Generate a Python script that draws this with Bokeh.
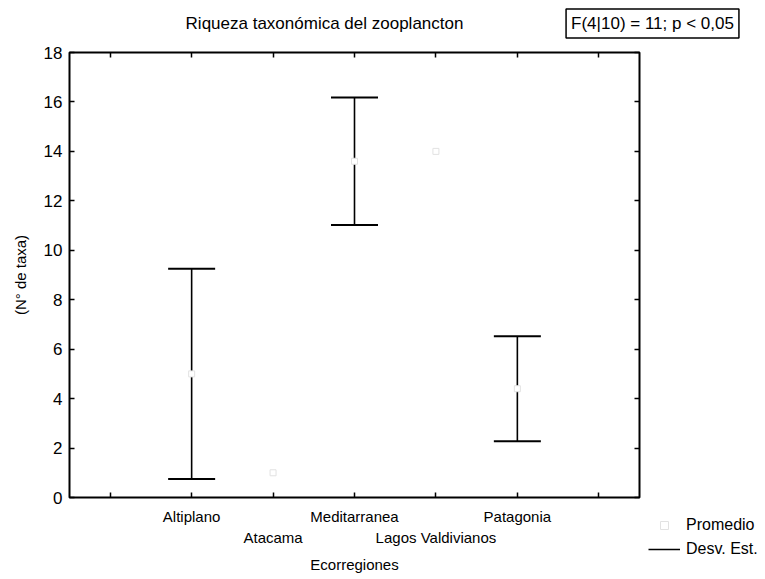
from bokeh.plotting import figure
from bokeh.layouts import column, row
from bokeh.models import (LinearAxis, FixedTicker, Label, Legend, LegendItem,
                          ColumnDataSource, Range1d, Spacer)
from bokeh.embed import file_html
from bokeh.resources import INLINE

# ---------------- data ----------------
regions = ["Altiplano", "Atacama", "Meditarranea", "Lagos Valdivianos", "Patagonia"]
means = [5.0, 1.0, 13.6, 14.0, 4.4]
sds = [4.25, 0.0, 2.58, 0.0, 2.12]
y_ticks = [0, 2, 4, 6, 8, 10, 12, 14, 16, 18]
title_text = "Riqueza taxonómica del zooplancton"
stat_text = "F(4|10) = 11; p < 0,05"
x_label = "Ecorregiones"
y_label = "(N° de taxa)"
legend_mean = "Promedio"
legend_sd = "Desv. Est."

FONT = "Liberation Sans"

pos = list(range(1, len(regions) + 1))
src = ColumnDataSource(dict(x=pos, mean=means))
bx = [p_ for p_, s in zip(pos, sds) if s > 0]
bu = [m + s for m, s in zip(means, sds) if s > 0]
bl = [m - s for m, s in zip(means, sds) if s > 0]
bar_src = ColumnDataSource(dict(x=bx, upper=bu, lower=bl))

MEAN_STYLE = dict(marker="square", size=6, fill_color="white",
                  line_color="#e2e2e2", line_width=1)
BAR_STYLE = dict(line_color="black", line_width=1.6)
CAP_STYLE = dict(marker="dash", size=47, line_color="black", line_width=2)


def bare(fig):
    fig.grid.visible = False
    fig.outline_line_color = None
    fig.background_fill_color = "white"
    fig.border_fill_color = "white"
    fig.title.visible = False


# ---------------- header (title + statistic box) ----------------
HEADER_H = 42
header = figure(width=765, height=HEADER_H, x_range=Range1d(0, 1), y_range=Range1d(0, 1),
                output_backend="svg", toolbar_location=None,
                x_axis_location=None, y_axis_location=None,
                min_border=0, min_border_left=0, min_border_right=0,
                min_border_top=0, min_border_bottom=0)
bare(header)
header.add_layout(Label(x=324, y=HEADER_H - 23, x_units="screen", y_units="screen",
                        text=title_text, text_align="center", text_baseline="middle",
                        text_font=FONT, text_font_size="17px", text_color="black"))
header.add_layout(Label(x=652, y=HEADER_H - 23, x_units="screen", y_units="screen",
                        text=stat_text, text_align="center", text_baseline="middle",
                        text_font=FONT, text_font_size="17px", text_color="black",
                        border_line_color="black", border_line_width=1.5,
                        background_fill_color="white", padding=5))

# ---------------- main plot ----------------
MAIN_W, MAIN_H = 647, 579 - HEADER_H
x_lo, x_hi = -0.5, len(regions) + 1.5
p = figure(width=MAIN_W, height=MAIN_H, x_range=Range1d(x_lo, x_hi),
           y_range=Range1d(0, 18), output_backend="svg", toolbar_location=None,
           x_axis_location=None, y_axis_location=None,
           min_border_left=69, min_border_right=MAIN_W - 639, min_border_top=10,
           min_border_bottom=82)
bare(p)
p.outline_line_color = "black"
p.outline_line_width = 2

all_x = list(range(0, len(regions) + 2))
row1_ticks = pos[0::2]
row2_ticks = pos[1::2]


def style(ax, ticks=True):
    ax.axis_line_color = None
    for kind in ("major", "minor"):
        setattr(ax, kind + "_tick_in", 5 if ticks else 0)
        setattr(ax, kind + "_tick_out", 0)
        setattr(ax, kind + "_tick_line_color", "black" if ticks else None)
        setattr(ax, kind + "_tick_line_width", 1.5)
    ax.major_label_text_font = FONT
    ax.major_label_text_color = "black"
    ax.axis_label_text_font = FONT
    ax.axis_label_text_font_style = "normal"
    ax.axis_label_text_color = "black"


left = LinearAxis(ticker=FixedTicker(ticks=y_ticks), axis_label=y_label)
style(left)
left.major_label_text_font_size = "17px"
left.major_label_standoff = 7
left.axis_label_text_font_size = "15px"
left.axis_label_standoff = 12
p.add_layout(left, "left")

# unlabeled tick marks on the right and top sides (minor ticks only)
right = LinearAxis(ticker=FixedTicker(ticks=[], minor_ticks=y_ticks))
style(right)
right.major_label_standoff = 0
p.add_layout(right, "right")

top = LinearAxis(ticker=FixedTicker(ticks=[], minor_ticks=all_x))
style(top)
top.major_label_standoff = 0
p.add_layout(top, "above")

# bottom: staggered category labels in two rows
bottom1 = LinearAxis(ticker=FixedTicker(ticks=row1_ticks,
                                        minor_ticks=[t for t in all_x if t not in row1_ticks]),
                     major_label_overrides={pos[i]: regions[i] for i in range(0, len(regions), 2)})
style(bottom1)
bottom1.major_label_text_font_size = "15px"
bottom1.major_label_standoff = 10
p.add_layout(bottom1, "below")

bottom2 = LinearAxis(ticker=FixedTicker(ticks=row2_ticks),
                     major_label_overrides={pos[i]: regions[i] for i in range(1, len(regions), 2)},
                     axis_label=x_label)
style(bottom2, ticks=False)
bottom2.major_label_text_font_size = "15px"
bottom2.major_label_standoff = 1
bottom2.axis_label_text_font_size = "15px"
bottom2.axis_label_standoff = 7
p.add_layout(bottom2, "below")

# error bars (mean ± SD)
p.segment(x0="x", y0="lower", x1="x", y1="upper", source=bar_src, **BAR_STYLE)
p.scatter(x="x", y="upper", source=bar_src, **CAP_STYLE)
p.scatter(x="x", y="lower", source=bar_src, **CAP_STYLE)
# means
p.scatter(x="x", y="mean", source=src, **MEAN_STYLE)

# ---------------- legend (outside the box, lower right) ----------------
LEG_W = 765 - MAIN_W
SPACER_H = 463
LEG_H = MAIN_H - SPACER_H
# this small figure only hosts the legend: its ranges lie away from the data,
# so its renderers draw nothing but their legend symbols
lf = figure(width=LEG_W, height=LEG_H, x_range=Range1d(x_lo - 20, x_lo - 19),
            y_range=Range1d(-40, -39), output_backend="svg", toolbar_location=None,
            x_axis_location=None, y_axis_location=None,
            min_border=0, min_border_left=0, min_border_right=0,
            min_border_top=0, min_border_bottom=0)
bare(lf)
lm = lf.scatter(x="x", y="mean", source=src, **MEAN_STYLE)
ls = lf.segment(x0="x", y0="lower", x1="x", y1="upper", source=bar_src, **BAR_STYLE)
legend = Legend(items=[LegendItem(label=legend_mean, renderers=[lm]),
                       LegendItem(label=legend_sd, renderers=[ls])],
                location=(1, 20), orientation="vertical",
                background_fill_alpha=0, border_line_color=None,
                padding=0, margin=0, spacing=4,
                label_text_font=FONT, label_text_font_size="16px",
                label_text_color="black",
                glyph_width=32, glyph_height=20, label_height=20,
                label_standoff=6)
lf.add_layout(legend)

layout = column(header, row(p, column(Spacer(width=LEG_W, height=SPACER_H), lf)))

open("out.html", "w").write(file_html(layout, INLINE))
